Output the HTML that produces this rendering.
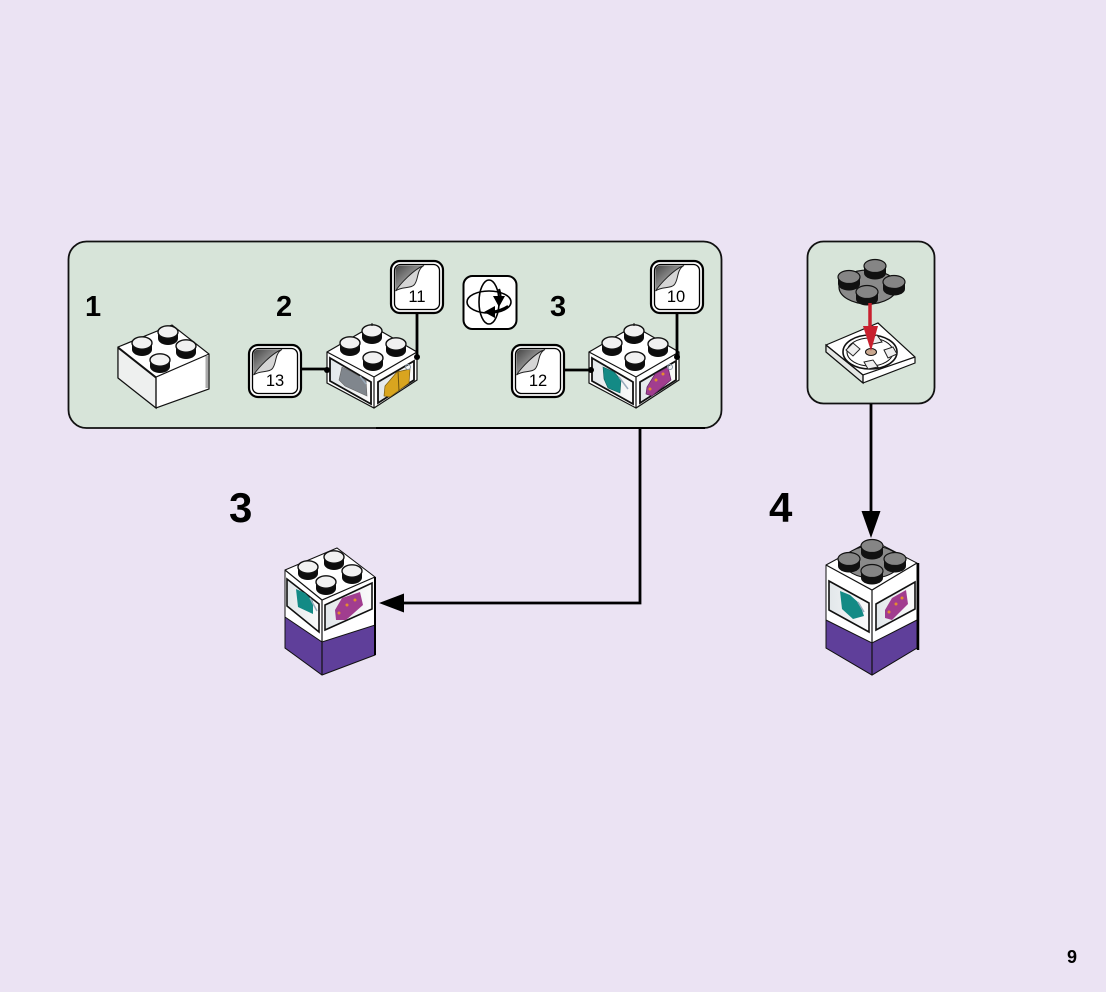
<!DOCTYPE html>
<html><head><meta charset="utf-8"><style>
html,body{margin:0;padding:0;background:#ebe3f3}
svg{display:block}
text{font-family:"Liberation Sans",sans-serif}
</style></head><body>
<svg width="1106" height="992" viewBox="0 0 1106 992" xmlns="http://www.w3.org/2000/svg">
<defs>
<g id="stud"><path d="M-10 0v6.500a10 6.500 0 0 0 20 0v-6.500z" fill="#0d0d0d"/><ellipse rx="10" ry="6.200" fill="#f1f1f1" stroke="#111" stroke-width="1.400"/></g>
<g id="gstud"><path d="M-11 0v7a11 6.500 0 0 0 22 0v-7z" fill="#111"/><ellipse rx="11" ry="6.500" fill="#858585" stroke="#111" stroke-width="1.200"/></g>
<linearGradient id="peel" x1="0" y1="0" x2="1" y2="1"><stop offset="0" stop-color="#444"/><stop offset="1" stop-color="#e4e4e4"/></linearGradient>
<linearGradient id="pan" x1="0" y1="0" x2="1" y2="0"><stop offset="0" stop-color="#e2e7ea"/><stop offset="1" stop-color="#fafafa"/></linearGradient>
<g id="call">
<rect x="1" y="1" width="52" height="52" rx="9" fill="#fff" stroke="#000" stroke-width="2.200"/>
<rect x="4.500" y="4.500" width="45" height="45" rx="6" fill="#fff" stroke="#000" stroke-width="1.300"/>
<path d="M5.500 31V10a4.500 4.500 0 0 1 4.500-4.500h24z" fill="url(#peel)"/>
<path d="M5.500 31C12 26 20 29 24 25C29 20 26 10 34 5.500C24 9 10 24 5.500 31z" fill="#d5d5d5" stroke="#222" stroke-width="1"/>
</g>
<g id="sbrick">
<path d="M327 352L372 326L417 352V380L374 408L327 383z" fill="#fff" stroke="#111" stroke-width="1.200"/>
<path d="M327 352L374 377L417 352M374 377V408" fill="none" stroke="#111" stroke-width="1.200"/>
<path d="M330 358L371 382V404L330 381z" fill="url(#pan)" stroke="#111" stroke-width="1.800"/>
<path d="M378 382L414 361V380L378 403z" fill="url(#pan)" stroke="#111" stroke-width="1.800"/>
<use href="#stud" x="350" y="343"/><use href="#stud" x="372" y="331"/><use href="#stud" x="396" y="344"/><use href="#stud" x="373" y="358"/>
<path d="M372 323V326" stroke="#111"/>
</g>
</defs>
<rect width="1106" height="992" fill="#ebe3f3"/>

<!-- panels -->
<rect x="68.500" y="241.500" width="653" height="186.500" rx="18" fill="#d7e4d9" stroke="#111" stroke-width="1.800"/>
<path d="M376 428H705" stroke="#000" stroke-width="2"/>
<rect x="807.500" y="241.500" width="127" height="162" rx="16" fill="#d7e4d9" stroke="#111" stroke-width="1.800"/>

<!-- connectors -->
<path d="M640 428V603H402" fill="none" stroke="#000" stroke-width="2.800"/>
<path d="M379 603L404 593.500V612.500z" fill="#000"/>
<path d="M871 404V514" fill="none" stroke="#000" stroke-width="2.800"/>
<path d="M871 538L861.500 511H880.500z" fill="#000"/>

<!-- step numbers -->
<text x="85" y="316" font-size="29" font-weight="700">1</text>
<text x="276" y="316" font-size="29" font-weight="700">2</text>
<text x="550" y="316" font-size="29" font-weight="700">3</text>
<text x="229" y="522" font-size="42" font-weight="700">3</text>
<text x="769" y="522" font-size="42" font-weight="700">4</text>
<text x="1067" y="963" font-size="18" font-weight="700">9</text>

<!-- brick 1 -->
<path d="M118 347L172 325L209 354V389L156 408L118 378z" fill="#fff" stroke="#111" stroke-width="1.200"/>
<path d="M118 348L156 378V408L118 378z" fill="#eef0ef" stroke="#111" stroke-width="1.200"/>
<path d="M118 347L156 377L209 354M156 377V408" fill="none" stroke="#111" stroke-width="1.200"/>
<path d="M207 356V388" stroke="#aaa" stroke-width="3"/>
<use href="#stud" x="142" y="343"/><use href="#stud" x="168" y="332"/><use href="#stud" x="186" y="346"/><use href="#stud" x="160" y="360"/>

<!-- brick 2 -->
<use href="#sbrick"/>
<path d="M342 367L350 371L366 380L367 396L345 386L339 380z" fill="#80868d" stroke="#666" stroke-width=".6"/>
<path d="M360 376L366 384" stroke="#9ab" stroke-width="1.500"/>
<path d="M385 386L397 372L410 369L409 383L390 397L384 396z" fill="#d9a51f" stroke="#7a5c10" stroke-width=".7"/>
<path d="M398 371L399 391" stroke="#6b5210" stroke-width="1"/>
<circle cx="408" cy="367" r="2.500" fill="none" stroke="#89a" stroke-width="1"/>

<!-- brick 3 -->
<use href="#sbrick" x="262"/>
<path d="M603 367L614 372L621 380L620 393L608 388L604 379z" fill="#138a85" stroke="#0c5f5c" stroke-width=".6"/>
<path d="M619 377L628 389" stroke="#9ab" stroke-width="1.500"/>
<path d="M647 387L655 374L668 367L671 380L652 396L646 394z" fill="#a13d8f" stroke="#5e2360" stroke-width=".7"/>
<circle cx="650" cy="389" r="1.500" fill="#e58b2f"/><circle cx="656" cy="380" r="1.500" fill="#e58b2f"/><circle cx="663" cy="374" r="1.500" fill="#e58b2f"/>
<circle cx="670" cy="367" r="2.500" fill="none" stroke="#89a" stroke-width="1"/>

<!-- callouts -->
<use href="#call" x="248" y="344"/><use href="#call" x="390" y="260"/><use href="#call" x="511" y="344"/><use href="#call" x="650" y="260"/>
<text x="275" y="386" font-size="16.500" text-anchor="middle">13</text>
<text x="417" y="302" font-size="16.500" text-anchor="middle">11</text>
<text x="538" y="386" font-size="16.500" text-anchor="middle">12</text>
<text x="676" y="302" font-size="16.500" text-anchor="middle">10</text>
<path d="M302 369H327M417 314V356M565 370H591M677 314V356" fill="none" stroke="#000" stroke-width="2.800"/>
<circle cx="327" cy="370" r="3" fill="#000"/><circle cx="417" cy="357" r="3" fill="#000"/><circle cx="591" cy="370" r="3" fill="#000"/><circle cx="677" cy="357" r="3" fill="#000"/>

<!-- rotate icon -->
<rect x="463.500" y="276" width="53" height="53" rx="9" fill="#fff" stroke="#000" stroke-width="2"/>
<ellipse cx="489" cy="302" rx="22" ry="11" fill="none" stroke="#000" stroke-width="1.600"/>
<ellipse cx="489" cy="302" rx="10" ry="22" fill="none" stroke="#000" stroke-width="1.600"/>
<path d="M499 307L493 296H505z M484 312L495 306V318z" fill="#000"/>
<path d="M499 289Q502 298 499 302" fill="none" stroke="#000" stroke-width="2.200"/>
<path d="M492 312Q502 310 508 306" fill="none" stroke="#000" stroke-width="2.200"/>

<!-- panel 2 -->
<path d="M826 345L878 323L915 357V363L863 383L826 352z" fill="#fff" stroke="#111" stroke-width="1.200"/>
<path d="M826 345L863 375V383L826 352z" fill="#e4e6e4" stroke="#111" stroke-width="1.200"/>
<path d="M826 345L863 375L915 357M863 375V383" fill="none" stroke="#111" stroke-width="1.200"/>
<ellipse cx="870" cy="352" rx="27" ry="17" fill="#fff" stroke="#111" stroke-width="1.600"/>
<ellipse cx="870" cy="352" rx="23" ry="14" fill="none" stroke="#111" stroke-width="1"/>
<path d="M846 350L853 343L860 349L853 356zM868 338L877 335L882 342L873 344zM884 350L893 347L897 354L888 358zM864 362L873 360L878 367L868 369z" fill="#eee" stroke="#222" stroke-width="1"/>
<ellipse cx="871" cy="352" rx="5.500" ry="3.500" fill="#c9a88f" stroke="#111" stroke-width="1"/>
<ellipse cx="868" cy="287" rx="29" ry="17" fill="#8a8a8a" stroke="#111" stroke-width="1.200"/>
<use href="#gstud" x="875" y="266"/><use href="#gstud" x="849" y="277"/><use href="#gstud" x="894" y="282"/><use href="#gstud" x="867" y="292"/>
<path d="M870 303V333" stroke="#c8202e" stroke-width="3.500"/>
<path d="M863 326L878 326L871 351z" fill="#c8202e"/>

<!-- bottom-left assembly -->
<path d="M285 570L337 548L375 577V652L322 674L285 648z" fill="#fff" stroke="#111" stroke-width="1"/>
<path d="M285 617L322 642L375 625V655L322 675L285 648z" fill="#5f3f9a" stroke="#111" stroke-width="1"/>
<path d="M285 570L322 600L375 577M322 600V675" fill="none" stroke="#111" stroke-width="1.200"/>
<path d="M287 579L319 604V632L287 606z" fill="url(#pan)" stroke="#111" stroke-width="1.600"/>
<path d="M325 605L372 583V609L325 630z" fill="url(#pan)" stroke="#111" stroke-width="1.600"/>
<path d="M296 589L305 593L313 601L313 614L298 607z" fill="#138a85"/>
<path d="M310 598L317 611" stroke="#9ab" stroke-width="1.500"/>
<path d="M335 610L342 598L360 592L363 605L346 620L336 620z" fill="#a13d8f"/>
<circle cx="339" cy="613" r="1.500" fill="#e58b2f"/><circle cx="347" cy="605" r="1.500" fill="#e58b2f"/><circle cx="355" cy="600" r="1.500" fill="#e58b2f"/>
<path d="M375 577V655" stroke="#000" stroke-width="2"/>
<use href="#stud" x="308" y="567"/><use href="#stud" x="334" y="557"/><use href="#stud" x="352" y="571"/><use href="#stud" x="326" y="582"/>

<!-- bottom-right assembly -->
<path d="M826 565L872 540L917 563V648L872 675L826 648z" fill="#fff" stroke="#111" stroke-width="1"/>
<path d="M826 620L872 643L917 620V648L872 675L826 648z" fill="#5f3f9a" stroke="#111" stroke-width="1"/>
<path d="M826 565L872 590L917 563M872 590V675" fill="none" stroke="#111" stroke-width="1.200"/>
<path d="M829 581L869 603V632L829 610z" fill="url(#pan)" stroke="#111" stroke-width="1.600"/>
<path d="M876 604L915 582V609L876 630z" fill="url(#pan)" stroke="#111" stroke-width="1.600"/>
<path d="M840 591L850 595L860 604L864 616L853 619L842 609z" fill="#138a85"/>
<path d="M858 602L864 612" stroke="#9ab" stroke-width="1.500"/>
<path d="M885 610L892 598L906 590L908 604L892 620L885 618z" fill="#a13d8f"/>
<circle cx="889" cy="612" r="1.500" fill="#e58b2f"/><circle cx="896" cy="604" r="1.500" fill="#e58b2f"/><circle cx="902" cy="598" r="1.500" fill="#e58b2f"/>
<path d="M918 563V650" stroke="#000" stroke-width="2.500"/>
<ellipse cx="872" cy="562" rx="28" ry="16" fill="#8a8a8a" stroke="#111" stroke-width="1"/>
<use href="#gstud" x="872" y="546"/><use href="#gstud" x="849" y="559"/><use href="#gstud" x="895" y="559"/><use href="#gstud" x="872" y="571"/>
</svg>
</body></html>
